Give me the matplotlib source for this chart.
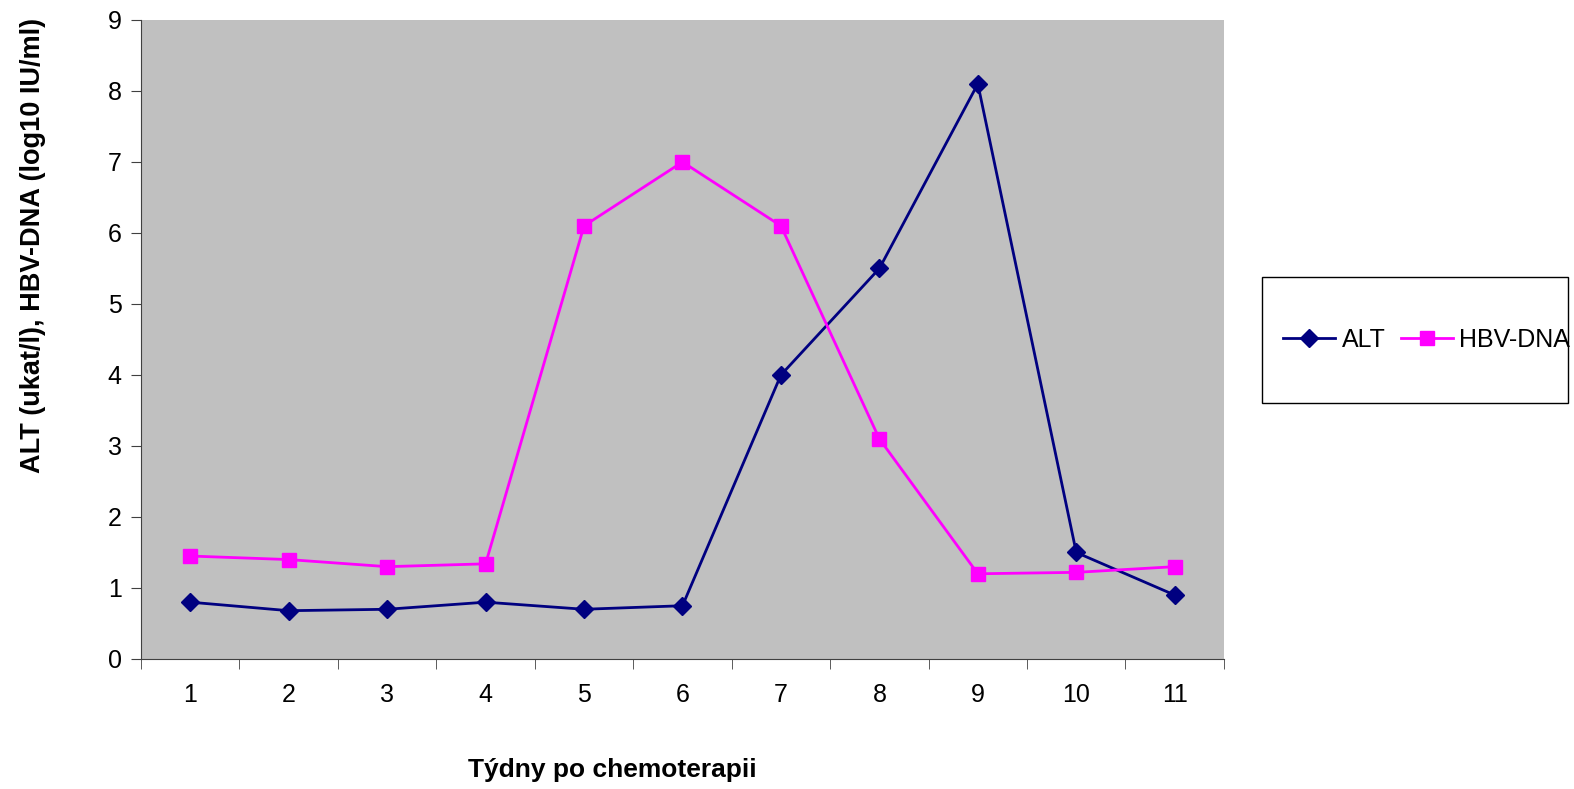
import matplotlib.pyplot as plt
import numpy as np

plt.rcParams['font.family'] = ['Liberation Sans', 'DejaVu Sans']

tydny = ['1', '2', '3', '4', '5', '6', '7', '8', '9', '10', '11']
alt = [0.8, 0.68, 0.7, 0.8, 0.7, 0.75, 4.0, 5.5, 8.1, 1.5, 0.9]
hbv_dna = [1.45, 1.4, 1.3, 1.34, 6.1, 7.0, 6.1, 3.1, 1.2, 1.22, 1.3]

fig = plt.figure(figsize=(15.74, 7.89), dpi=100)
ax = fig.add_axes([0.0896, 0.1648, 0.6880, 0.8099])
ax.set_facecolor('#C0C0C0')

x = np.arange(1, len(tydny) + 1)
ax.plot(x, alt, color='#000080', linewidth=2, marker='D', markersize=9,
        label='ALT')
ax.plot(x, hbv_dna, color='#FF00FF', linewidth=2, marker='s', markersize=10.5,
        label='HBV-DNA')

ax.set_xlim(0.5, len(tydny) + 0.5)
ax.set_ylim(0, 9)
ax.set_yticks(range(0, 10))
ax.set_xticks(x)
ax.set_xticklabels(tydny)
ax.set_xticks(np.arange(0.5, len(tydny) + 1, 1), minor=True)
ax.tick_params(axis='x', which='major', length=0, pad=17, labelsize=18)
ax.tick_params(axis='x', which='minor', length=7, direction='out', color='#404040')
ax.tick_params(axis='y', length=7, direction='out', labelsize=18, pad=7,
               color='#404040')

for side in ['top', 'right']:
    ax.spines[side].set_visible(False)
ax.spines['left'].set_color('#404040')
ax.spines['bottom'].set_color('#404040')

ax.set_xlabel('Týdny po chemoterapii', fontsize=19, fontweight='bold', va='center')
ax.xaxis.set_label_coords(0.435, -0.173)
ax.set_ylabel('ALT (ukat/l), HBV-DNA (log10 IU/ml)', fontsize=19.5,
              fontweight='bold', va='center')
ax.yaxis.set_label_coords(-0.0997, 0.647)

leg = fig.legend(loc='center left', bbox_to_anchor=(0.8151, 0.569),
                 ncol=2, fontsize=18, frameon=False, borderpad=0,
                 handlelength=2.1, handletextpad=0.25, columnspacing=0.6,
                 borderaxespad=0)

# rámeček legendy
leg_box = plt.Rectangle((0.8018, 0.4892), 0.1944, 0.1597, transform=fig.transFigure,
                        fill=False, edgecolor='black', linewidth=1)
fig.patches.append(leg_box)

plt.savefig('out.png', dpi=100)
